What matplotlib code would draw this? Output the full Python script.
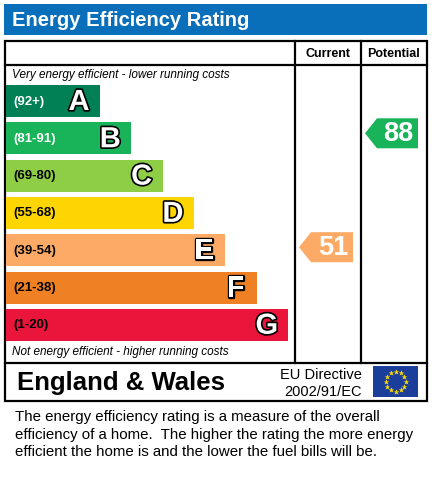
import numpy as np
import matplotlib
matplotlib.use('Agg')
from matplotlib import pyplot as plt
from matplotlib.patches import Polygon, Rectangle
import matplotlib.patheffects as pe

# rating bands
bands = ['A', 'B', 'C', 'D', 'E', 'F', 'G']
ranges = ['(92+)', '(81-91)', '(69-80)', '(55-68)', '(39-54)', '(21-38)', '(1-20)']
colors = ['#008054', '#19b459', '#8dce46', '#ffd500', '#fcaa65', '#ef8023', '#e9153b']
range_text_colors = ['white', 'white', 'black', 'black', 'black', 'black', 'black']

current = 51
potential = 88
current_band = 'E'
potential_band = 'B'

plt.rcParams['font.family'] = ['Liberation Sans', 'DejaVu Sans']

W, H = 432, 480
fig = plt.figure(figsize=(W / 100, H / 100), dpi=100)
ax = fig.add_axes([0, 0, 1, 1])
ax.set_xlim(0, W)
ax.set_ylim(H, 0)
ax.axis('off')

# title bar
ax.add_patch(Rectangle((4, 4), 423, 31, color='#0a6fba', lw=0))
ax.text(12, 20, 'Energy Efficiency Rating', color='white', fontsize=14.5,
        fontweight='bold', va='center', ha='left')

# main frame
lw = 1.6
ax.add_patch(Rectangle((4.5, 41), 422, 360, fill=False, ec='black', lw=lw))
ax.plot([4.5, 426.5], [65, 65], color='black', lw=lw)
ax.plot([4.5, 426.5], [363, 363], color='black', lw=lw)
ax.plot([295, 295], [41, 363], color='black', lw=lw)
ax.plot([361, 361], [41, 363], color='black', lw=lw)

ax.text(328, 54, 'Current', fontsize=9, fontweight='bold', ha='center', va='center')
ax.text(394, 54, 'Potential', fontsize=9, fontweight='bold', ha='center', va='center')

ax.text(12, 75, 'Very energy efficient - lower running costs', fontsize=8.5,
        style='italic', ha='left', va='center')
ax.text(12, 352, 'Not energy efficient - higher running costs', fontsize=8.5,
        style='italic', ha='left', va='center')

# bars
y_top = 85
step = 37.3
bar_h = 32
ys = [y_top + bar_h / 2 + i * step for i in range(len(bands))]
ends = [100 + i * 31.3 for i in range(len(bands))]
widths = [e - 6 for e in ends]
ax.barh(ys, widths, left=6, height=bar_h, color=colors, lw=0)

for i, b in enumerate(bands):
    ax.text(13.5, ys[i] + 0.5, ranges[i], fontsize=9.5, fontweight='bold',
            color=range_text_colors[i], ha='left', va='center')
    ax.text(ends[i] - 21, ys[i] + 1, b, fontsize=21, fontweight='bold',
            color='white', ha='center', va='center',
            path_effects=[pe.withStroke(linewidth=2.4, foreground='black')])


def arrow(x0, x1, yc, value, color):
    h = 15
    tip = 12
    pts = [(x0, yc), (x0 + tip, yc - h), (x1, yc - h), (x1, yc + h), (x0 + tip, yc + h)]
    ax.add_patch(Polygon(pts, closed=True, color=color, lw=0))
    ax.text((x0 + tip + x1) / 2 + 1, yc + 1, str(value), fontsize=19.5,
            fontweight='bold', color='white', ha='center', va='center')


ci = bands.index(current_band)
pi = bands.index(potential_band)
arrow(299, 353, ys[ci] - 3, current, colors[ci])
arrow(365, 418, ys[pi] - 5, potential, colors[pi])

# footer
ax.text(17, 383, 'England & Wales', fontsize=18.5, fontweight='bold',
        ha='left', va='center')
ax.text(362, 375, 'EU Directive', fontsize=10.5, ha='right', va='center')
ax.text(362, 392, '2002/91/EC', fontsize=10.5, ha='right', va='center')

# EU flag
ax.add_patch(Rectangle((373, 366), 45, 31, color='#1a3e9a', lw=0))
ang = np.linspace(0, 2 * np.pi, 12, endpoint=False)
ax.plot(395.5 + 10 * np.cos(ang), 381.5 + 10 * np.sin(ang), ls='none',
        marker='*', ms=4, color='#ffdd00', mec='none')

# explanation
lines = ['The energy efficiency rating is a measure of the overall',
         'efficiency of a home.  The higher the rating the more energy',
         'efficient the home is and the lower the fuel bills will be.']
for i, line in enumerate(lines):
    ax.text(15, 417.5 + i * 17.5, line, fontsize=10.8, ha='left', va='center')

fig.savefig('out.png', dpi=100)
